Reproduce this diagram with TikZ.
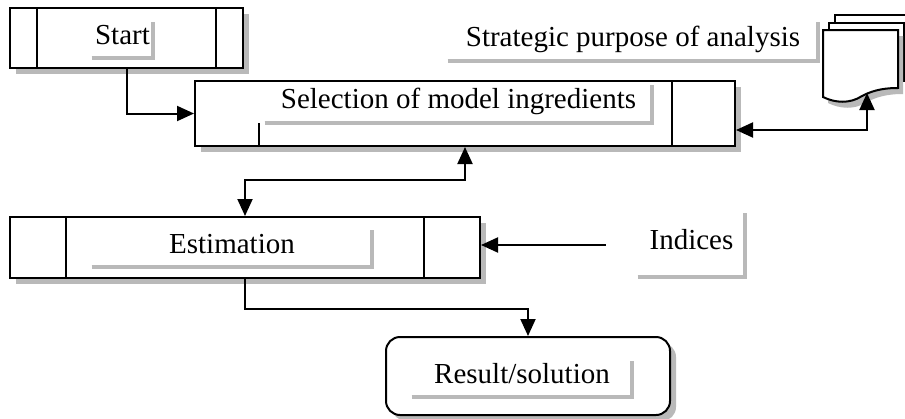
\documentclass[tikz,border=0pt]{standalone}
\usepackage{fontspec}
\setmainfont{Liberation Serif}
\usetikzlibrary{positioning,calc,arrows.meta,shadows}
\tikzset{
  box/.style={draw, line width=1pt, fill=white, inner sep=0pt,
    drop shadow={shadow xshift=3pt, shadow yshift=-3pt, fill=gray!55, opacity=1}},
  lbl/.style={inner sep=0pt, font=\fontsize{14.5}{17}\selectfont, text height=10pt, text depth=5.4pt},
  lblshadow/.style={draw=gray!55, line width=2pt},
  conn/.style={line width=1pt, -{Triangle[length=8.5pt,width=7.5pt]}},
  conntwo/.style={line width=1pt, {Triangle[length=8.5pt,width=7.5pt]}-{Triangle[length=8.5pt,width=7.5pt]}},
}
\newcommand{\lblL}[1]{\draw[lblshadow] (#1.south west) -- (#1.south east) -- (#1.north east);}

\begin{document}
\begin{tikzpicture}[x=0.5pt, y=-0.5pt]
    \useasboundingbox (0,0) rectangle (905,418);
    % Kaesten
    \node[box, minimum width=116.5pt, minimum height=30pt] (start) at (126.5,38) {};
    \node[box, minimum width=270pt, minimum height=32.5pt] (sel) at (465,113.5) {};
    \node[box, minimum width=235pt, minimum height=30.5pt] (est) at (245,247.5) {};
    \node[box, rounded corners=7pt, minimum width=142pt, minimum height=39pt] (res) at (528,376) {};
    % Innenlinien
    \draw[line width=1pt] ($(start.north west)+(28,0)$) -- ($(start.south west)+(28,0)$);
    \draw[line width=1pt] ($(start.north east)+(-28,0)$) -- ($(start.south east)+(-28,0)$);
    \draw[line width=1pt] ($(sel.south west)+(65,0)$) -- ++(0,-24);
    \draw[line width=1pt] ($(sel.north east)+(-64,0)$) -- ($(sel.south east)+(-64,0)$);
    \draw[line width=1pt] ($(est.north west)+(57,0)$) -- ($(est.south west)+(57,0)$);
    \draw[line width=1pt] ($(est.north east)+(-57,0)$) -- ($(est.south east)+(-57,0)$);
    % Dokumente
    \draw[line width=1pt, fill=white] (835,75) -- (835,15) -- (912,15) -- (912,75);
    \draw[line width=1pt, fill=white] (829,82) -- (829,23) -- (904,23) -- (904,82);
    \fill[gray!55] (828,103) .. controls (840,109) and (855,110) .. (867,102)
        .. controls (880,95) and (893,94) .. (903,94) -- (903,36) -- (828,36) -- cycle;
    \draw[line width=1pt, fill=white] (823,97) -- (823,30) -- (898,30) -- (898,88)
        .. controls (888,88) and (875,89) .. (862,96)
        .. controls (850,104) and (835,103) .. (823,97) -- cycle;
    \coordinate (docb) at (867,93);
    % Texte
    \node[lbl, minimum width=30.5pt, minimum height=18pt] (startlbl) at (122.5,40) {Start};
    \node[lbl, minimum width=185pt, minimum height=19.5pt] (purplbl) at (633,41.5) {Strategic purpose of analysis};
    \node[lbl, minimum width=193.5pt, minimum height=19pt] (sellbl) at (458.5,104) {Selection of model ingredients};
    \node[lbl, minimum width=140pt, minimum height=18.5pt] (estlbl) at (232,248.5) {Estimation};
    \node[lbl, minimum width=53.5pt, minimum height=32pt] (idxlbl) at (691.5,245) {Indices};
    \node[lbl, minimum width=110pt, minimum height=18pt] (reslbl) at (522,379) {Result/solution};
    \lblL{startlbl}
    \lblL{purplbl}
    \lblL{sellbl}
    \lblL{estlbl}
    \lblL{idxlbl}
    \lblL{reslbl}
    % Verbindungen
    \draw[conn] (start.south) |- (sel.west);
    \draw[conntwo] (sel.south) -- ++(0,33) -| (est.north);
    \draw[conn] (est.south) -- ++(0,30) -| (res.north);
    \draw[conn, shorten <=16pt] (idxlbl.west) -- (idxlbl.west -| est.east);
    \draw[conntwo] (docb) |- ($(sel.south east)+(0,-17)$);
\end{tikzpicture}
\end{document}
